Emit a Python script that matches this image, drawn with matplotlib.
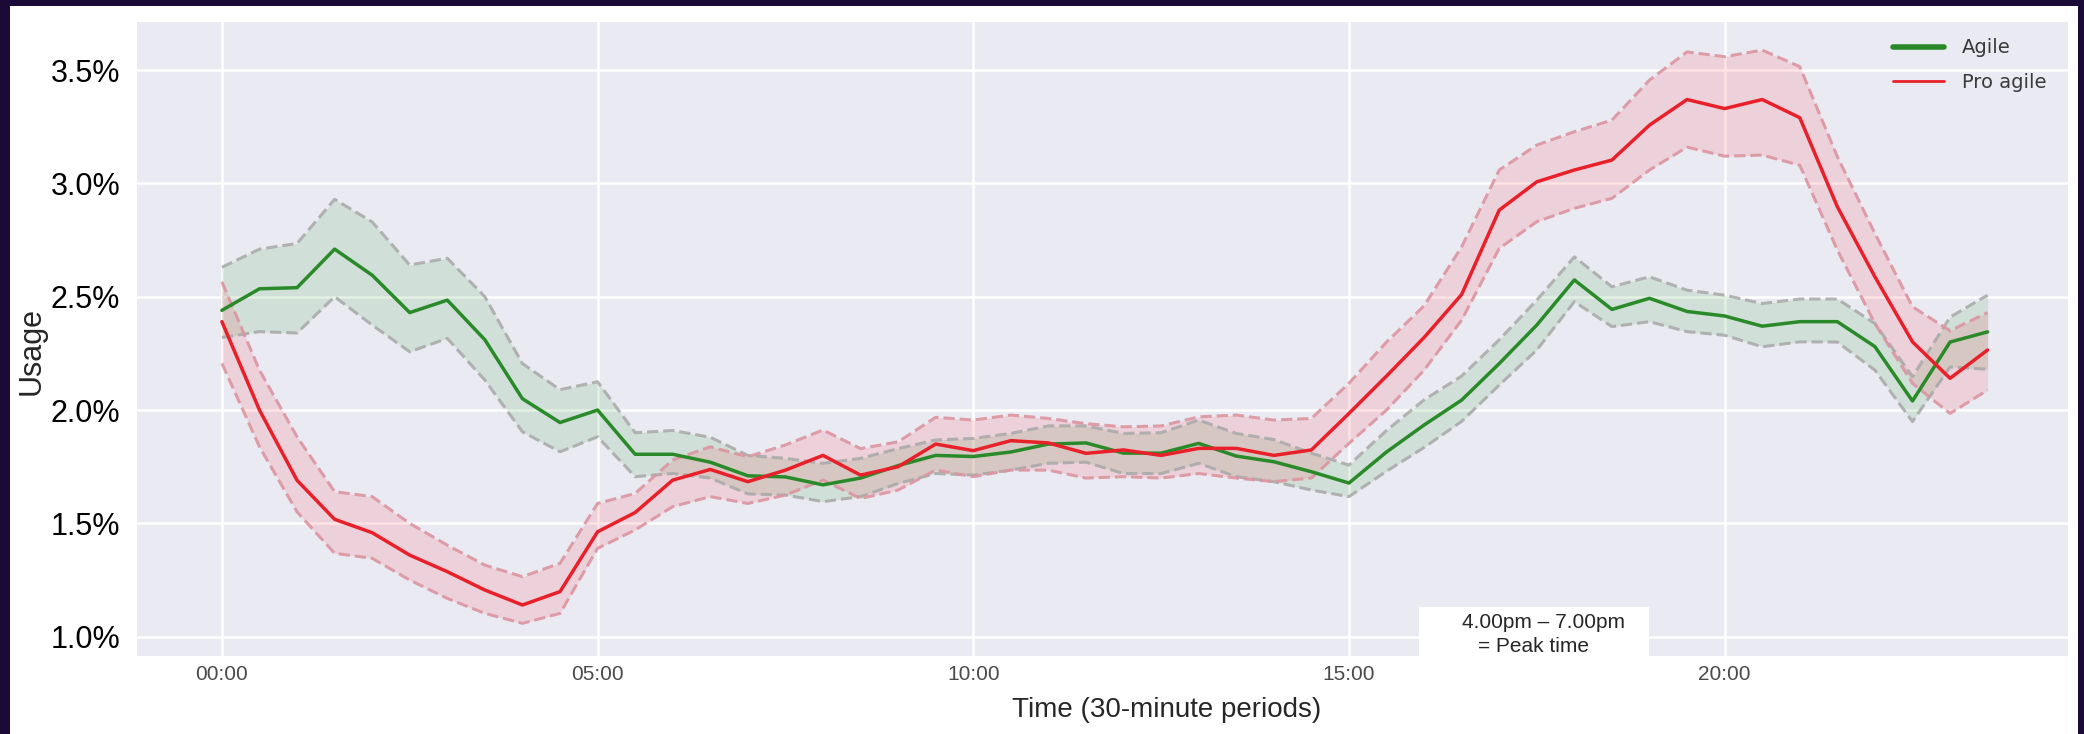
import matplotlib
matplotlib.use("Agg")
import matplotlib.pyplot as plt
from matplotlib import font_manager
from matplotlib.patches import Rectangle
from matplotlib.lines import Line2D
from matplotlib.ticker import FuncFormatter
import seaborn as sns
import numpy as np

# half-hour periods, in hours from midnight
hours = np.arange(48) * 0.5

# Agile: mean and band edges (%)
agile = [2.44, 2.535, 2.54, 2.71, 2.595, 2.43, 2.485, 2.31, 2.05, 1.945,
         2.0, 1.805, 1.805, 1.77, 1.71, 1.705, 1.67, 1.70, 1.755, 1.80,
         1.795, 1.815, 1.85, 1.855, 1.81, 1.81, 1.853, 1.797, 1.772, 1.728,
         1.678, 1.815, 1.934, 2.044, 2.205, 2.375, 2.574, 2.444, 2.493, 2.435,
         2.415, 2.37, 2.39, 2.39, 2.28, 2.04, 2.30, 2.345]
agile_hi = [2.63, 2.71, 2.735, 2.93, 2.83, 2.64, 2.67, 2.5, 2.205, 2.09,
            2.125, 1.90, 1.91, 1.88, 1.80, 1.787, 1.765, 1.787, 1.83, 1.868,
            1.875, 1.897, 1.93, 1.93, 1.897, 1.90, 1.956, 1.897, 1.87, 1.81,
            1.757, 1.91, 2.045, 2.15, 2.31, 2.485, 2.676, 2.544, 2.588, 2.529,
            2.507, 2.47, 2.49, 2.49, 2.382, 2.147, 2.41, 2.507]
agile_lo = [2.32, 2.346, 2.34, 2.5, 2.375, 2.257, 2.316, 2.132, 1.904, 1.816,
            1.882, 1.706, 1.72, 1.70, 1.63, 1.625, 1.596, 1.618, 1.676, 1.72,
            1.713, 1.735, 1.765, 1.77, 1.72, 1.72, 1.765, 1.706, 1.684, 1.647,
            1.618, 1.73, 1.835, 1.95, 2.11, 2.265, 2.478, 2.368, 2.39, 2.346,
            2.33, 2.279, 2.301, 2.30, 2.176, 1.949, 2.19, 2.18]

# Pro agile: mean and band edges (%)
pro = [2.39, 2.0, 1.69, 1.518, 1.459, 1.36, 1.287, 1.206, 1.14, 1.199,
       1.463, 1.548, 1.691, 1.738, 1.684, 1.735, 1.80, 1.713, 1.75, 1.85,
       1.821, 1.865, 1.855, 1.809, 1.824, 1.80, 1.831, 1.831, 1.80, 1.824,
       1.985, 2.15, 2.32, 2.51, 2.882, 3.007, 3.059, 3.103, 3.257, 3.37,
       3.33, 3.37, 3.29, 2.897, 2.588, 2.301, 2.14, 2.265]
pro_hi = [2.566, 2.176, 1.882, 1.64, 1.618, 1.5, 1.404, 1.316, 1.265, 1.324,
          1.588, 1.632, 1.78, 1.838, 1.794, 1.846, 1.912, 1.83, 1.86, 1.968,
          1.956, 1.978, 1.963, 1.94, 1.926, 1.93, 1.97, 1.978, 1.956, 1.963,
          2.118, 2.30, 2.46, 2.72, 3.059, 3.169, 3.228, 3.279, 3.456, 3.58,
          3.559, 3.588, 3.515, 3.118, 2.779, 2.456, 2.35, 2.43]
pro_lo = [2.206, 1.838, 1.551, 1.368, 1.346, 1.25, 1.169, 1.103, 1.059, 1.103,
          1.39, 1.471, 1.574, 1.618, 1.588, 1.625, 1.691, 1.61, 1.647, 1.735,
          1.706, 1.735, 1.735, 1.70, 1.706, 1.70, 1.72, 1.70, 1.684, 1.70,
          1.853, 2.0, 2.176, 2.397, 2.713, 2.831, 2.89, 2.934, 3.059, 3.16,
          3.12, 3.125, 3.08, 2.706, 2.382, 2.118, 1.985, 2.088]

x_ticks = [0, 5, 10, 15, 20]
x_tick_labels = ['00:00', '05:00', '10:00', '15:00', '20:00']
y_ticks = [1.0, 1.5, 2.0, 2.5, 3.0, 3.5]
series_labels = ['Agile', 'Pro agile']

sns.set_style('darkgrid')
plt.rcParams['font.family'] = ['Liberation Sans', 'DejaVu Sans']

W, H = 2084, 734
fig = plt.figure(figsize=(W / 100, H / 100), dpi=100)
fig.patch.set_facecolor('#1b0a38')
# white slide area inside the dark frame
fig.add_artist(Rectangle((10 / W, 0), (2078 - 10) / W, (H - 6) / H,
                         transform=fig.transFigure, facecolor='white',
                         edgecolor='none', zorder=-1))

ax = fig.add_axes([137 / W, (H - 656) / H, (2068 - 137) / W, (656 - 22) / H])
ax.set_facecolor('#eaeaf2')
ax.grid(True, color='white', lw=1.8)
for s in ax.spines.values():
    s.set_visible(False)

green = '#2a8a2a'
red = '#e8202a'

ax.fill_between(hours, agile_lo, agile_hi, color='#3fa53f', alpha=0.15, lw=0)
ax.plot(hours, agile_hi, ls='--', color='#a8a8a8', alpha=0.85, lw=2.2)
ax.plot(hours, agile_lo, ls='--', color='#a8a8a8', alpha=0.85, lw=2.2)

ax.fill_between(hours, pro_lo, pro_hi, color='#ff4455', alpha=0.15, lw=0)
ax.plot(hours, pro_hi, ls='--', color='#dc95a0', alpha=0.9, lw=2.2)
ax.plot(hours, pro_lo, ls='--', color='#dc95a0', alpha=0.9, lw=2.2)

ax.plot(hours, agile, color=green, lw=2.5)
ax.plot(hours, pro, color=red, lw=2.5)

ax.set_xlim(-1.13, 24.57)
ax.set_ylim(0.915, 3.712)
ax.set_yticks(y_ticks)
ax.yaxis.set_major_formatter(FuncFormatter(lambda v, p: f'{v:.1f}%'))
ax.set_xticks(x_ticks)
ax.set_xticklabels(x_tick_labels)

names = {f.name for f in font_manager.fontManager.ttflist}
if 'Liberation Sans Narrow' in names:
    xt_font, xt_size = 'Liberation Sans Narrow', 18
else:
    xt_font, xt_size = 'Liberation Sans', 15
ax.tick_params(axis='x', length=0, pad=6.5, labelsize=xt_size, labelcolor='#4a4a4a')
for lab in ax.get_xticklabels():
    lab.set_family(xt_font)
ax.tick_params(axis='y', length=0, pad=12, labelsize=22, labelcolor='black')

ax.set_ylabel('Usage', fontsize=22)
ax.yaxis.set_label_coords(-0.0544, 0.481)
ax.yaxis.label.set_va('center')
ax.set_xlabel('Time (30-minute periods)', fontsize=20)
ax.xaxis.set_label_coords(0.533, -0.085)
ax.xaxis.label.set_va('center')

handles = [Line2D([], [], color=green, lw=4), Line2D([], [], color=red, lw=2)]
ax.legend(handles, series_labels, loc='upper left',
          bbox_to_anchor=((1893 - 137) / 1931, 0.974), frameon=False,
          borderaxespad=0, borderpad=0, handlelength=2.6, handletextpad=0.95,
          labelspacing=0.8, prop={'family': 'DejaVu Sans', 'size': 14},
          labelcolor='#3a3a3a')

# peak time note box
fig.add_artist(Rectangle((1419 / W, (H - 657) / H), 230 / W, 50 / H,
                         transform=fig.transFigure, facecolor='white',
                         edgecolor='none', zorder=5))
fig.text(1543 / W, 1 - 622 / H, '4.00pm \u2013 7.00pm', ha='center', va='center',
         fontsize=15, zorder=6)
fig.text(1534 / W, 1 - 647 / H, '= Peak time', ha='center', va='center',
         fontsize=15, zorder=6)

fig.savefig('out.png', dpi=100, facecolor=fig.get_facecolor())
